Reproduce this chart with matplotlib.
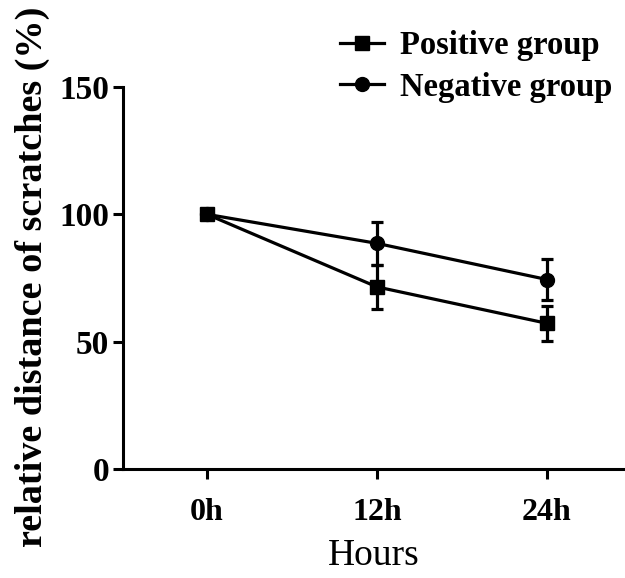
import matplotlib
matplotlib.use("Agg")
import matplotlib.pyplot as plt
import numpy as np

categories = ["0h", "12h", "24h"]
positive_mean = [100, 71.5, 57.2]
positive_err = [0, 8.5, 7.0]
negative_mean = [100, 88.6, 74.4]
negative_err = [0, 8.3, 8.0]
yticks = [0, 50, 100, 150]

plt.rcParams['font.family'] = ['Liberation Serif', 'DejaVu Serif']

fig = plt.figure(figsize=(6.25, 5.78), dpi=100)
ax = fig.add_axes([123/625, (578-469)/578, 1 - 123/625, (469-87)/578])

x = np.arange(len(categories))
ax.errorbar(x, positive_mean, yerr=positive_err, color='black', marker='s',
            markersize=10, lw=2.3, capsize=4, capthick=2.3, elinewidth=2.3,
            label='Positive group', zorder=3)
ax.errorbar(x, negative_mean, yerr=negative_err, color='black', marker='o',
            markersize=10, lw=2.3, capsize=4, capthick=2.3, elinewidth=2.3,
            label='Negative group', zorder=3)

ax.set_xlim(-0.494, 2.459)
ax.set_ylim(0, 150)
ax.set_xticks(x)
ax.set_xticklabels(categories, fontsize=23, fontweight='bold')
ax.set_yticks(yticks)
ax.set_yticklabels([str(v) for v in yticks], fontsize=24, fontweight='bold')
for s in ['top', 'right']:
    ax.spines[s].set_visible(False)
for s in ['left', 'bottom']:
    ax.spines[s].set_linewidth(2.2)
ax.tick_params(axis='both', width=2.2, length=7, direction='out')
ax.tick_params(axis='x', pad=14)
ax.tick_params(axis='y', pad=3)

ax.set_xlabel('Hours', fontsize=27, labelpad=8)
fig.text(32/625, 1 - 277/578, 'relative distance of scratches (%)',
         rotation=90, ha='center', va='center', fontsize=27.5,
         fontweight='bold')

handles, labels = ax.get_legend_handles_labels()
handles = [h[0] for h in handles]
leg = ax.legend(handles, labels, loc='upper left',
                bbox_to_anchor=(340/625, 1 - 30/578), bbox_transform=fig.transFigure,
                frameon=False, prop={'size': 23.5, 'weight': 'bold'},
                handlelength=1.35, handletextpad=0.5, labelspacing=0.33,
                borderaxespad=0.0, borderpad=0.0)

fig.savefig("out.png", dpi=100)
